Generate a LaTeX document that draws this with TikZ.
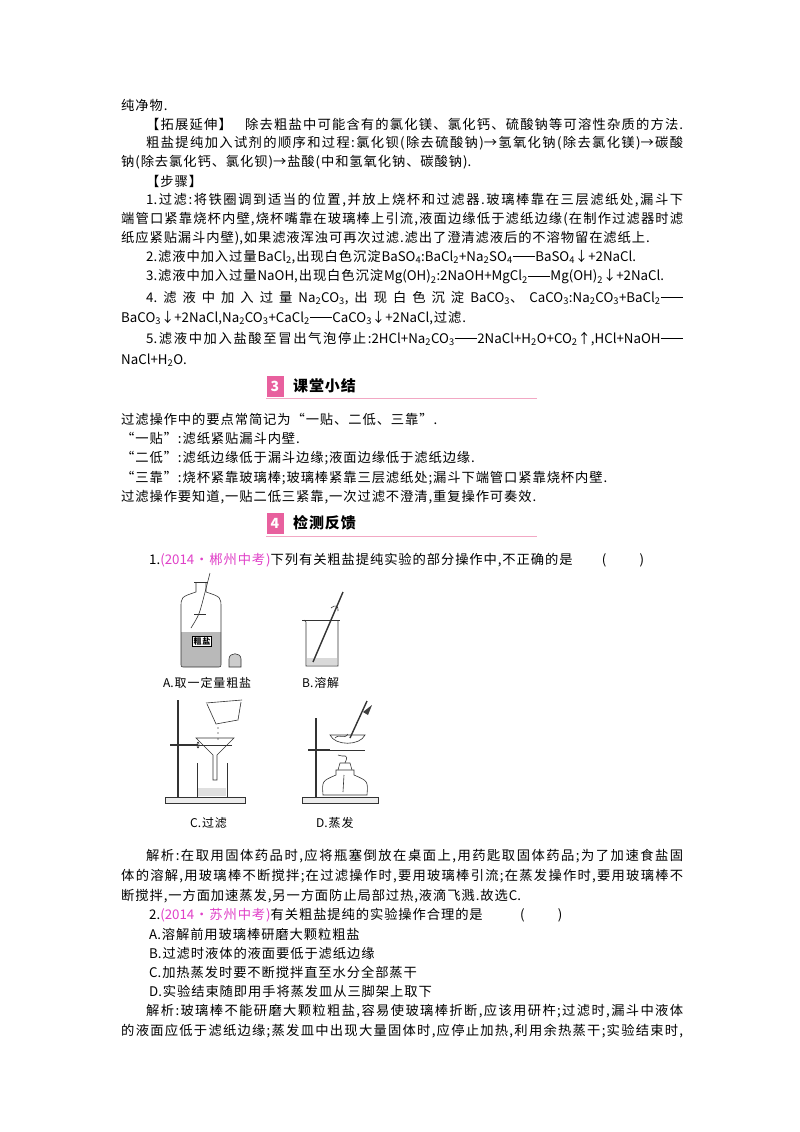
\documentclass[tikz,border=0pt]{standalone}
\usepackage{fontspec}
\setmainfont{Noto Sans CJK SC}
\newcount\cjkc
\def\cjkrange#1#2{\cjkc=#1\relax\loop\XeTeXcharclass\cjkc=1 \ifnum\cjkc<#2\advance\cjkc by 1 \repeat}
\cjkrange{"4E00}{"9FFF}
\cjkrange{"3000}{"303F}
\cjkrange{"FF00}{"FFEF}
\cjkrange{"2010}{"2027}
\XeTeXinterchartokenstate=1
\XeTeXinterchartoks 1 1 = {\hskip 0.9pt plus 1pt minus 0.9pt}
\XeTeXinterchartoks 1 0 = {\hskip 0.9pt plus 1pt minus 0.9pt}
\XeTeXinterchartoks 0 1 = {\hskip 0.9pt plus 1pt minus 0.9pt}
\definecolor{mag}{HTML}{E040C8}
\definecolor{pk}{HTML}{E8609E}
\definecolor{pkl}{HTML}{F2A8C4}
\newcommand\eqb{\rule[0.3em]{1.7em}{1.2pt}}
\newcommand\sbs[1]{\textsubscript{#1}}
\newcommand\JA[1]{\makebox[562pt][s]{#1}}
\newcommand\JB[1]{\makebox[537pt][s]{#1}}
\begin{document}
\begin{tikzpicture}[x=1pt,y=-1pt,
  txt/.style={anchor=west,inner sep=0pt,font=\fontsize{13.3}{15}\selectfont},
  captxt/.style={anchor=west,inner sep=0pt,font=\fontsize{12}{13}\selectfont},
  app/.style={line width=0.6pt,draw=black!80}]
\useasboundingbox[fill=white] (0,0) rectangle (800,1132);
\node[txt] (l1) at (121,105) {纯净物.};
\node[txt] (l2) at (146,124) {\JB{【拓展延伸】\quad 除去粗盐中可能含有的氯化镁、氯化钙、硫酸钠等可溶性杂质的方法.}};
\node[txt] (l3) at (146,143) {\JB{粗盐提纯加入试剂的顺序和过程:氯化钡(除去硫酸钠)→氢氧化钠(除去氯化镁)→碳酸}};
\node[txt] (l4) at (121,162) {钠(除去氯化钙、氯化钡)→盐酸(中和氢氧化钠、碳酸钠).};
\node[txt] (l5) at (146,181) {【步骤】};
\node[txt] (l6) at (146,200) {\JB{1.过滤:将铁圈调到适当的位置,并放上烧杯和过滤器.玻璃棒靠在三层滤纸处,漏斗下}};
\node[txt] (l7) at (121,219) {\JA{端管口紧靠烧杯内壁,烧杯嘴靠在玻璃棒上引流,液面边缘低于滤纸边缘(在制作过滤器时滤}};
\node[txt] (l8) at (121,238) {纸应紧贴漏斗内壁),如果滤液浑浊可再次过滤.滤出了澄清滤液后的不溶物留在滤纸上.};
\node[txt] (l9) at (146,257) {2.滤液中加入过量BaCl\sbs{2},出现白色沉淀BaSO\sbs{4}:BaCl\sbs{2}+Na\sbs{2}SO\sbs{4}\eqb BaSO\sbs{4}↓+2NaCl.};
\node[txt] (l10) at (146,277) {3.滤液中加入过量NaOH,出现白色沉淀Mg(OH)\sbs{2}:2NaOH+MgCl\sbs{2}\eqb Mg(OH)\sbs{2}↓+2NaCl.};
\node[txt] (l11) at (146,298) {\JB{4.滤液中加入过量Na\sbs{2}CO\sbs{3},出现白色沉淀BaCO\sbs{3}、CaCO\sbs{3}:Na\sbs{2}CO\sbs{3}+BaCl\sbs{2}\eqb}};
\node[txt] (l12) at (121,318) {BaCO\sbs{3}↓+2NaCl,Na\sbs{2}CO\sbs{3}+CaCl\sbs{2}\eqb CaCO\sbs{3}↓+2NaCl,过滤.};
\node[txt] (l13) at (146,339) {\JB{5.滤液中加入盐酸至冒出气泡停止:2HCl+Na\sbs{2}CO\sbs{3}\eqb 2NaCl+H\sbs{2}O+CO\sbs{2}↑,HCl+NaOH\eqb}};
\node[txt] (l14) at (121,360) {NaCl+H\sbs{2}O.};
% section 3
\draw[pkl,line width=1pt] (266,398) -- (537,398);
\node[fill=pk,minimum width=17pt,minimum height=21pt,inner sep=0pt,text=white,font=\bfseries\itshape\fontsize{14}{14}\selectfont] (s3) at (275,386) {3};
\node[txt,font=\bfseries\fontsize{15}{16}\selectfont] (t3) at (293,386) {课堂小结};
\node[txt] (m1) at (121,419) {过滤操作中的要点常简记为“一贴、二低、三靠”.};
\node[txt] (m2) at (121,438) {“一贴”:滤纸紧贴漏斗内壁.};
\node[txt] (m3) at (121,458) {“二低”:滤纸边缘低于漏斗边缘;液面边缘低于滤纸边缘.};
\node[txt] (m4) at (121,478) {“三靠”:烧杯紧靠玻璃棒;玻璃棒紧靠三层滤纸处;漏斗下端管口紧靠烧杯内壁.};
\node[txt] (m5) at (121,497) {过滤操作要知道,一贴二低三紧靠,一次过滤不澄清,重复操作可奏效.};
% section 4
\draw[pkl,line width=1pt] (266,536) -- (537,536);
\node[fill=pk,minimum width=17pt,minimum height=21pt,inner sep=0pt,text=white,font=\bfseries\itshape\fontsize{14}{14}\selectfont] (s4) at (275,523) {4};
\node[txt,font=\bfseries\fontsize{15}{16}\selectfont] (t4) at (293,523) {检测反馈};
\node[txt] (q1) at (149,560) {1.{\color{mag}(2014•郴州中考)}下列有关粗盐提纯实验的部分操作中,不正确的是\hspace{2.2em}(\hspace{2.5em})};
% ---- figure A: bottle
\fill[gray!55] (181,632) -- (221,632) -- (221,663) .. controls (221,667) .. (217,667) -- (185,667) .. controls (181,667) .. (181,663) -- cycle;
\draw[app] (196,582) -- (196,592) .. controls (181,597) .. (181,608) -- (181,663) .. controls (181,667) .. (185,667) -- (217,667) .. controls (221,667) .. (221,663) -- (221,608) .. controls (221,597) .. (206,592) -- (206,582);
\draw[app] (194,582) -- (208,582);
\draw[app] (210,573) -- (203,600) .. controls (199,615) .. (191,628);
\draw[app] (194,614) -- (206,614);
\node[draw,fill=white,inner sep=1pt,font=\fontsize{8}{8}\selectfont\bfseries] (lab) at (202,641) {粗盐};
\draw[app,fill=gray!40] (229,667) -- (229,659) .. controls (229,652) and (241,652) .. (241,659) -- (241,667) -- cycle;
\node[captxt] (ca) at (163,683) {A.取一定量粗盐};
% ---- figure B: beaker
\draw[app] (304,620) -- (306,622) -- (306,666) -- (338,666) -- (338,620);
\draw[app] (302,620) -- (340,620);
\fill[gray!30] (307,658) rectangle (337,665);
\draw[app,line width=1.4pt] (343,592) -- (313,662);
\draw[app] (331,608) .. controls (335,604) and (339,606) .. (338,611);
\node[captxt] (cb) at (302,683) {B.溶解};
% ---- figure C: filtration
\draw[app,fill=gray!15] (165,797) rectangle (245,803);
\draw[app,line width=1.3pt] (178,700) -- (178,797);
\draw[app,line width=1.5pt] (170,745) -- (198,745);
\draw[app] (198,745) ellipse (1pt and 3pt);
\draw[app] (198,745) -- (232,745);
\draw[app] (196,738) -- (234,738) -- (217,755) -- (217,780) -- (213,780) -- (213,755) -- cycle;
\draw[app] (197,763) -- (197,797) -- (227,797) -- (227,763);
\fill[gray!25] (198,788) rectangle (226,796);
\draw[app] (207,704) -- (216,724) -- (238,720) -- (241,702);
\draw[app] (206,703) -- (242,700);
\foreach \yy in {728,733,739} \fill (218,\yy) circle (0.7pt);
\node[captxt] (cc) at (190,823) {C.过滤};
% ---- figure D: evaporation
\draw[app,fill=gray!15] (302,797) rectangle (378,803);
\draw[app,line width=1.3pt] (316,718) -- (316,797);
\draw[app,line width=1.6pt] (308,750) -- (330,750);
\draw[app] (330,750) -- (365,750);
\draw[app] (330,735) -- (365,735) .. controls (360,746) and (335,746) .. cycle;
\draw[app] (335,738) .. controls (340,733) and (344,740) .. (348,734);
\draw[app] (338,755) .. controls (343,758) and (350,752) .. (345,763);
\draw[app] (338,770) -- (340,763) -- (350,763) -- (352,770);
\draw[app] (336,770) -- (354,770) -- (354,775) .. controls (368,781) .. (367,795) -- (323,795) .. controls (322,781) .. (336,775) -- cycle;
\draw[app] (344,775) -- (343,792);
\draw[app,line width=1.4pt] (367,701) -- (350,738);
\fill[black!75] (363,712) -- (372,705) -- (368,715) -- cycle;
\node[captxt] (cd) at (316,823) {D.蒸发};
% ---- analysis
\node[txt] (a1) at (146,856) {\JB{解析:在取用固体药品时,应将瓶塞倒放在桌面上,用药匙取固体药品;为了加速食盐固}};
\node[txt] (a2) at (121,876) {\JA{体的溶解,用玻璃棒不断搅拌;在过滤操作时,要用玻璃棒引流;在蒸发操作时,要用玻璃棒不}};
\node[txt] (a3) at (121,896) {断搅拌,一方面加速蒸发,另一方面防止局部过热,液滴飞溅.故选C.};
\node[txt] (q2) at (149,915) {2.{\color{mag}(2014•苏州中考)}有关粗盐提纯的实验操作合理的是\hspace{2.8em}(\hspace{2.5em})};
\node[txt] (o1) at (149,934) {A.溶解前用玻璃棒研磨大颗粒粗盐};
\node[txt] (o2) at (149,953) {B.过滤时液体的液面要低于滤纸边缘};
\node[txt] (o3) at (149,972) {C.加热蒸发时要不断搅拌直至水分全部蒸干};
\node[txt] (o4) at (149,991) {D.实验结束随即用手将蒸发皿从三脚架上取下};
\node[txt] (a4) at (146,1011) {\JB{解析:玻璃棒不能研磨大颗粒粗盐,容易使玻璃棒折断,应该用研杵;过滤时,漏斗中液体}};
\node[txt] (a5) at (121,1031) {\JA{的液面应低于滤纸边缘;蒸发皿中出现大量固体时,应停止加热,利用余热蒸干;实验结束时,}};
\end{tikzpicture}
\end{document}
